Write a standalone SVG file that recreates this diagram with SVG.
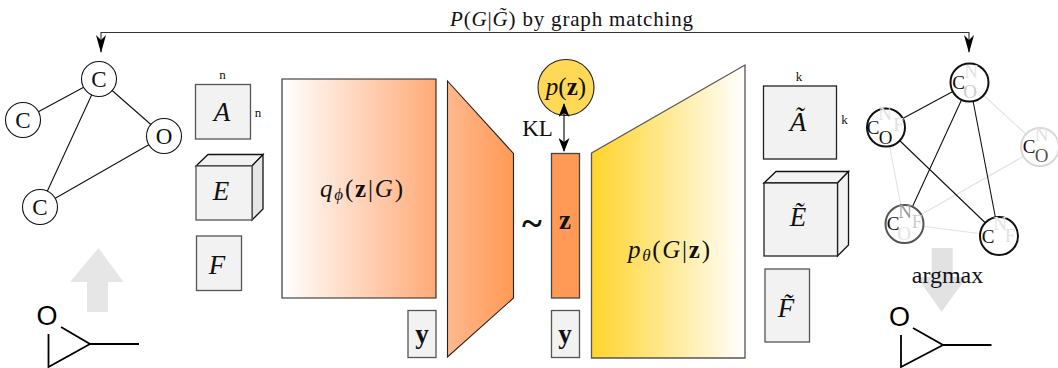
<svg xmlns="http://www.w3.org/2000/svg" width="1058" height="368" viewBox="0 0 1058 368">
<style>
text{font-family:"Liberation Serif","DejaVu Serif",serif;fill:#111;text-anchor:middle}
.i{font-style:italic}
.b{font-weight:bold}
.s{font-size:13px}
.m{font-size:27px}
.box{fill:#f2f2f2;stroke:#555;stroke-width:1.3}
.side{fill:#e6e6e6;stroke:#111;stroke-width:1.3}
.top{fill:#f2f2f2;stroke:#111;stroke-width:1.3}
.e{stroke:#111;stroke-width:1.1;fill:none}
.f{stroke:#e2e2e2;stroke-width:1.1;fill:none}
.n{fill:#fff;stroke:#111;stroke-width:1.1}
.l{font-size:23px}
.r{font-size:19px}
.k{fill:#111}
.d{fill:#555}
.h{fill:#999}
.g{fill:#ccc}
.p{fill:#e2e2e2}
.mol{stroke:#000;stroke-width:1.8;fill:none}
.o{font-family:"Liberation Sans",sans-serif;font-size:27px;fill:#000}
</style>
<defs>
<linearGradient id="g1"><stop offset="0" stop-color="#fff"/><stop offset="1" stop-color="#ffaa77"/></linearGradient>
<linearGradient id="g2"><stop offset="0" stop-color="#ffb88c"/><stop offset="1" stop-color="#ff9955"/></linearGradient>
<linearGradient id="g3"><stop offset="0" stop-color="#ffd42a"/><stop offset="1" stop-color="#fff"/></linearGradient>
<marker id="a" viewBox="0 0 18 10" refX="17" refY="5" markerWidth="18" markerHeight="10" markerUnits="userSpaceOnUse" orient="auto-start-reverse"><path d="M0,0 L18,5 L0,10 L5,5 Z" fill="#000"/></marker>
<marker id="b" viewBox="0 0 14 11" refX="13" refY="5.500" markerWidth="14" markerHeight="11" markerUnits="userSpaceOnUse" orient="auto-start-reverse"><path d="M0,0 L14,5.500 L0,11 L4,5.500 Z" fill="#000"/></marker>
</defs>
<g id="prior"><circle cx="566" cy="87.500" r="28" fill="#ffd955" stroke="#222" stroke-width="1.100"/><text x="566" y="95" font-size="25"><tspan class="i">p</tspan>(<tspan class="b">z</tspan>)</text></g>
<g id="connectors">
<path d="M101,52V32.500H969V52" fill="none" stroke="#333" stroke-width="1.100" marker-start="url(#a)" marker-end="url(#a)"/>
<path d="M564,104V151" fill="none" stroke="#000" stroke-width="1.100" marker-start="url(#b)" marker-end="url(#b)"/>
<path class="e" d="M99,79L23,120M99,79L164,136M99,79L40,207M164,136L40,207"/>
<path class="f" d="M969.500,82.500L1040,147M1040,147L904.500,224M886,127.500L904.500,224M904.500,224L999,236"/>
<path class="e" d="M969.500,82.500L886,127.500M969.500,82.500L904.500,224M969.500,82.500L999,236M886,127.500L999,236"/>
</g>
<g id="title"><text x="571.500" y="26" font-size="21" textLength="243"><tspan class="i">P</tspan>(<tspan class="i">G</tspan>|<tspan class="i">G̃</tspan>) by graph matching</text></g>
<g id="input-graph">
<g id="n1"><circle class="n" cx="99" cy="79" r="17.500"/><text class="l" x="99" y="87">C</text></g>
<g id="n2"><circle class="n" cx="23" cy="120" r="17.500"/><text class="l" x="23" y="128">C</text></g>
<g id="n3"><circle class="n" cx="164" cy="136" r="17.500"/><text class="l" x="164" y="144">O</text></g>
<g id="n4"><circle class="n" cx="40" cy="207" r="17.500"/><text class="l" x="40" y="215">C</text></g>
</g>
<g id="up-arrow"><path fill="#e6e6e6" d="M98.500,248L123.500,282H108V312H87V282H70Z"/></g>
<g id="mol-left"><path class="mol" d="M48.500,334V367L90,344L61,327M90,344H139"/><text class="o" x="47" y="325">O</text></g>
<g id="A"><rect class="box" x="195.500" y="84.500" width="55" height="54.500"/><text class="s" x="222.500" y="79">n</text><text class="s" x="258" y="117">n</text><text class="i m" x="222" y="121">A</text></g>
<g id="E"><path class="top" d="M196,166L208,154.500H263L252,166Z"/><path class="side" d="M252,166L263,154.500V209L252,220Z"/><rect class="box" x="196" y="166" width="56" height="54"/><text class="i m" x="221" y="200">E</text></g>
<g id="F"><rect class="box" x="196.500" y="236" width="45" height="54.500"/><text class="i m" x="217" y="274">F</text></g>
<g id="encoder-q"><path d="M282,79H436V298L282,298Z" fill="url(#g1)" stroke="#222" stroke-width="1.100"/><text x="361.500" y="197" font-size="25" textLength="83"><tspan class="i">q</tspan><tspan class="i" font-size="17" dy="3">ϕ</tspan><tspan dy="-3">(</tspan><tspan class="b">z</tspan>|<tspan class="i">G</tspan>)</text></g>
<g id="encoder-trap"><path d="M447.500,81L513.500,153.500V298L447.500,357Z" fill="url(#g2)" stroke="#222" stroke-width="1.100"/></g>
<g id="y1"><rect class="box" x="408" y="310.500" width="28" height="47"/><text class="b m" x="422" y="343">y</text></g>
<g id="tilde"><text class="b" x="532" y="236" font-size="38">~</text></g>
<g id="kl"><text x="537.500" y="136" font-size="23">KL</text></g>
<g id="z"><rect x="551.500" y="153.500" width="28" height="144.500" fill="#ff9955" stroke="#444" stroke-width="1.300"/><text class="b m" x="565" y="229">z</text></g>
<g id="y2"><rect class="box" x="551.500" y="310.500" width="28" height="47"/><text class="b m" x="565" y="343">y</text></g>
<g id="decoder"><path d="M591.500,153L745,65V358H591.500Z" fill="url(#g3)" stroke="#555" stroke-width="1.300"/><text x="669" y="258" font-size="25" textLength="82"><tspan class="i">p</tspan><tspan class="i" font-size="17" dy="3">θ</tspan><tspan dy="-3">(</tspan><tspan class="i">G</tspan>|<tspan class="b">z</tspan>)</text></g>
<g id="A2"><rect class="box" style="stroke:#222" x="763.500" y="86" width="73" height="73"/><text class="s" x="799" y="81">k</text><text class="s" x="844.500" y="124">k</text><text class="i m" x="798" y="131">Ã</text></g>
<g id="E2"><path class="top" d="M764,183L776,171.500H848.500L837.500,183Z"/><path class="side" style="fill:#f2f2f2" d="M837.500,183L848.500,171.500V245L837.500,256Z"/><rect class="box" style="stroke:#222" x="764" y="183" width="73.500" height="73"/><text class="i m" x="798" y="226">Ẽ</text></g>
<g id="F2"><rect class="box" x="765" y="269" width="44.500" height="73"/><text class="i m" x="786" y="317">F̃</text></g>
<g id="output-graph">
<g id="m1"><circle cx="969.500" cy="82.500" r="19" fill="#fff" stroke="#111" stroke-width="2"/><text class="r p" x="971" y="78">N</text><text class="r g" x="970" y="98">O</text><text class="r k" x="958.500" y="89">C</text></g>
<g id="m2"><circle cx="886" cy="127.500" r="19" fill="#fff" stroke="#111" stroke-width="2"/><text class="r p" x="885" y="120">N</text><text class="r p" x="898.500" y="131">F</text><text class="r k" x="873" y="134">C</text><text class="r k" x="885.500" y="143.500">O</text></g>
<g id="m3"><circle cx="1040" cy="147" r="19" fill="#fff" stroke="#d8d8d8" stroke-width="2"/><text class="r p" x="1041.500" y="141">N</text><text class="r d" x="1041.500" y="161.500">O</text><text class="r k" x="1029" y="152.500">C</text></g>
<g id="m4"><circle cx="904.500" cy="224" r="19" fill="#fff" stroke="#555" stroke-width="2"/><text class="r h" x="905" y="218">N</text><text class="r p" x="904" y="240">O</text><text class="r g" x="917" y="228">F</text><text class="r k" x="893" y="230">C</text></g>
<g id="m5"><circle cx="999" cy="236" r="19" fill="#fff" stroke="#111" stroke-width="2"/><text class="r p" x="1000" y="230">N</text><text class="r p" x="1010" y="242">F</text><text class="r k" x="988" y="243">C</text></g>
</g>
<g id="down-arrow"><path fill="#e2e2e2" d="M931.700,248H952.700V277H967L941.500,311.700L917,277H931.700Z"/><text x="947.500" y="283" font-size="24">argmax</text></g>
<g id="mol-right"><path class="mol" d="M901,335V367L943,345L913,328M943,345H991.500"/><text class="o" x="899.500" y="326">O</text></g>
</svg>
